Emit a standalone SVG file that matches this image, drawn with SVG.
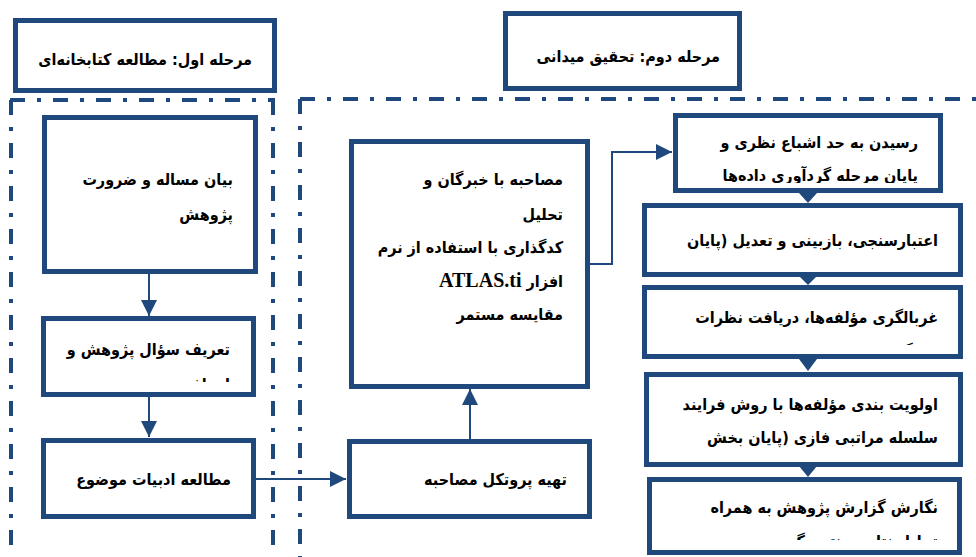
<svg xmlns="http://www.w3.org/2000/svg" width="976" height="557" viewBox="0 0 976 557">
<style>
.box{fill:#fff;stroke:#1f497d;stroke-width:5}
.dd{fill:none;stroke:#1f497d;stroke-width:4;stroke-dasharray:15 12 4 12}
.ln{fill:none;stroke:#1f497d;stroke-width:2}
.t{font-family:"DejaVu Sans Condensed","DejaVu Sans",sans-serif;font-weight:bold;font-size:16px;fill:#000;direction:rtl;text-anchor:start}
.lat{font-family:"Liberation Serif",serif;font-weight:bold;font-size:20px}
</style>
<defs>
<marker id="ahs" viewBox="0 0 10 10" refX="10" refY="5" markerWidth="8" markerHeight="8" orient="auto" markerUnits="strokeWidth">
<path d="M0,0 L10,5 L0,10 z" fill="#1f497d"/>
</marker>
<clipPath id="cB"><rect x="44" y="318" width="210" height="64"/></clipPath>
<clipPath id="cF"><rect x="676" y="116" width="264" height="67"/></clipPath>
<clipPath id="cG"><rect x="645" y="206" width="315" height="61"/></clipPath>
<clipPath id="cH"><rect x="645" y="288" width="315" height="57"/></clipPath>
<clipPath id="cI"><rect x="647" y="375" width="313" height="87"/></clipPath>
<clipPath id="cJ"><rect x="650" y="480" width="310" height="60"/></clipPath>
</defs>

<g id="regions">
<path class="dd" d="M10,100 H275 M11,100 V557 M273,100 V557"/>
<path class="dd" d="M300,99 H976 M300,99 V557"/>
</g>

<g id="head1">
<rect class="box" x="15.5" y="20.5" width="259" height="70"/>
<text class="t" x="252" y="65">مرحله اول: مطالعه کتابخانه‌ای</text>
</g>
<g id="head2">
<rect class="box" x="505.5" y="13.5" width="234" height="75"/>
<text class="t" x="720" y="62">مرحله دوم: تحقیق میدانی</text>
</g>

<g id="connectors">
<line class="ln" x1="149" y1="274" x2="149" y2="316" marker-end="url(#ahs)"/>
<line class="ln" x1="149" y1="397" x2="149" y2="437" marker-end="url(#ahs)"/>
<line class="ln" x1="256" y1="479" x2="346" y2="479" marker-end="url(#ahs)"/>
<line class="ln" x1="470" y1="439" x2="470" y2="389" marker-end="url(#ahs)"/>
<polyline class="ln" points="590,264 612,264 612,152 672,152" marker-end="url(#ahs)"/>
<path d="M799,193 L817,193 L808,203 z" fill="#1f497d"/>
<path d="M800,277 L816,277 L808,285 z" fill="#1f497d"/>
<path d="M799,359 L817,359 L808,371 z" fill="#1f497d"/>
<path d="M799,466 L817,466 L808,477 z" fill="#1f497d"/>
</g>

<g id="boxA">
<rect class="box" x="44.5" y="117.5" width="211" height="154"/>
<text class="t" x="233" y="185">بیان مساله و ضرورت</text>
<text class="t" x="233" y="220">پژوهش</text>
</g>
<g id="boxB">
<rect class="box" x="43.5" y="318.5" width="210" height="76"/>
<g clip-path="url(#cB)">
<text class="t" x="230" y="355">تعریف سؤال پژوهش و</text>
<text class="t" x="230" y="390">اهداف</text>
</g>
</g>
<g id="boxC">
<rect class="box" x="43.5" y="440.5" width="210" height="76"/>
<text class="t" x="231" y="485">مطالعه ادبیات موضوع</text>
</g>
<g id="boxD">
<rect class="box" x="349.5" y="441.5" width="240" height="75"/>
<text class="t" x="567" y="485">تهیه پروتکل مصاحبه</text>
</g>
<g id="boxE">
<rect class="box" x="351.5" y="141.5" width="236" height="245"/>
<text class="t" x="563" y="185">مصاحبه با خبرگان و</text>
<text class="t" x="563" y="220">تحلیل</text>
<text class="t" x="563" y="253">کدگذاری با استفاده از نرم</text>
<text class="t" x="563" y="287">افزار <tspan class="lat">ATLAS.ti</tspan></text>
<text class="t" x="563" y="320">مقایسه مستمر</text>
</g>
<g id="boxF">
<rect class="box" x="675.5" y="115.5" width="265" height="75"/>
<g clip-path="url(#cF)">
<text class="t" x="918" y="148">رسیدن به حد اشباع نظری و</text>
<text class="t" x="918" y="181">پایان مرحله گردآوری داده‌ها</text>
</g>
</g>
<g id="boxG">
<rect class="box" x="644.5" y="205.5" width="316" height="69"/>
<g clip-path="url(#cG)">
<text class="t" x="938" y="246">اعتبارسنجی، بازبینی و تعدیل (پایان</text>
<text class="t" x="938" y="280">فاز کیفی)</text>
</g>
</g>
<g id="boxH">
<rect class="box" x="644.5" y="287.5" width="316" height="69"/>
<g clip-path="url(#cH)">
<text class="t" x="938" y="323">غربالگری مؤلفه‌ها، دریافت نظرات</text>
<text class="t" x="938" y="357">خبرگان با روش دلفی فازی</text>
</g>
</g>
<g id="boxI">
<rect class="box" x="646.5" y="374.5" width="314" height="90"/>
<g clip-path="url(#cI)">
<text class="t" x="938" y="410">اولویت بندی مؤلفه‌ها با روش فرایند</text>
<text class="t" x="938" y="443">سلسله مراتبی فازی (پایان بخش</text>
</g>
</g>
<g id="boxJ">
<rect class="box" x="649.5" y="479.5" width="310" height="73"/>
<g clip-path="url(#cJ)">
<text class="t" x="938" y="513">نگارش گزارش پژوهش به همراه</text>
<text class="t" x="938" y="547">تحلیل نتایج و نتیجه‌گیری</text>
</g>
</g>
</svg>
